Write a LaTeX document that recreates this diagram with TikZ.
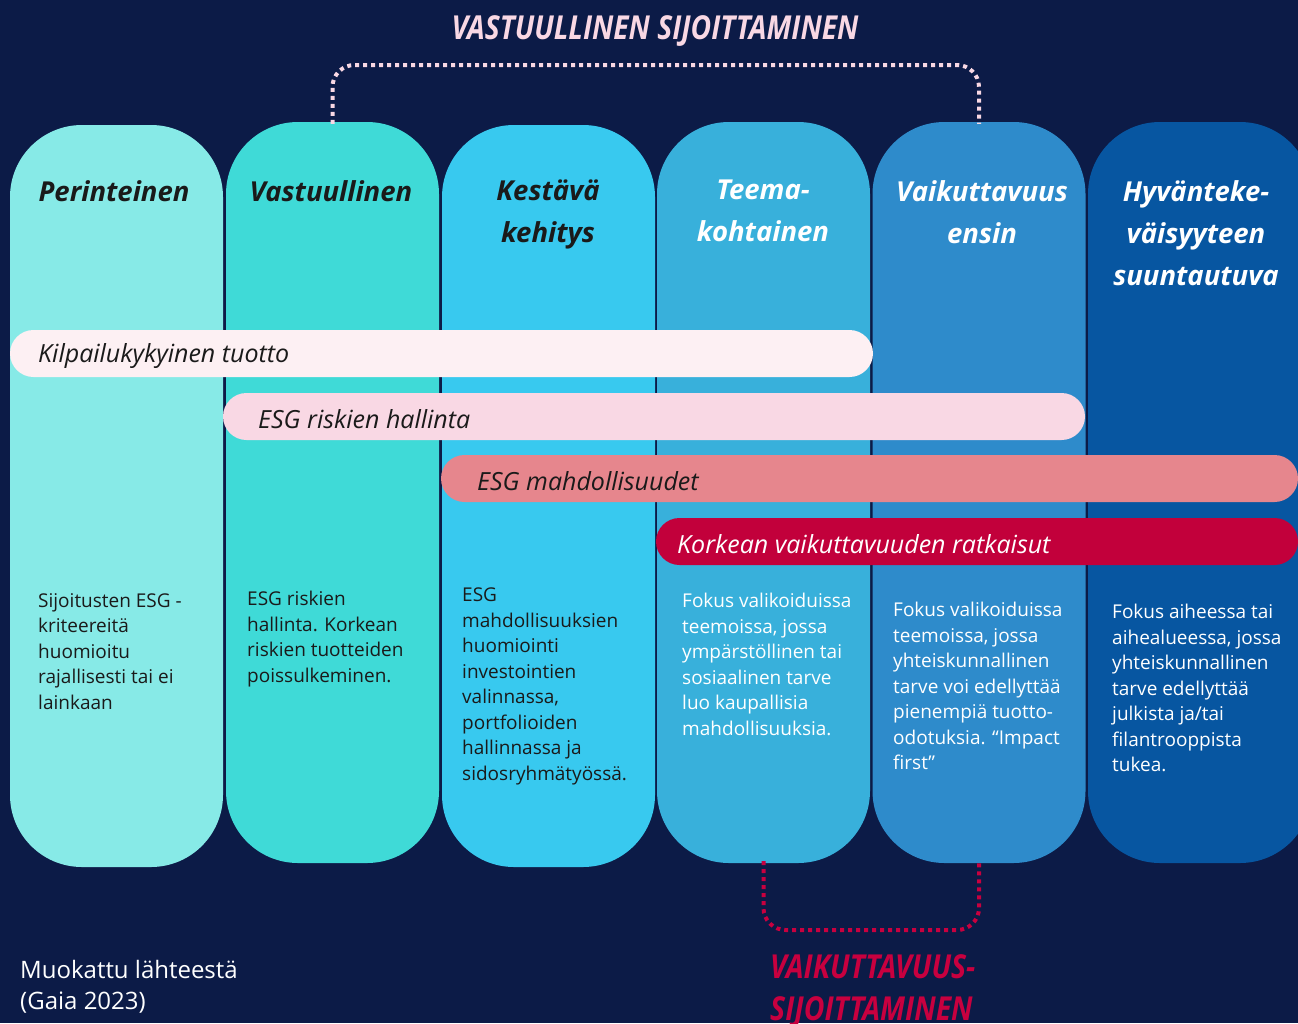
\documentclass[tikz,border=0pt]{standalone}
\usepackage{fontspec}
\setmainfont{Open Sans}
\usepackage{graphicx}
\definecolor{bgnavy}{HTML}{0C1B47}
\definecolor{colA}{HTML}{87EAE7}
\definecolor{colB}{HTML}{3FDAD7}
\definecolor{colC}{HTML}{38C9EF}
\definecolor{colD}{HTML}{38B0DB}
\definecolor{colE}{HTML}{2E8BCB}
\definecolor{colF}{HTML}{0756A1}
\definecolor{barA}{HTML}{FDF0F3}
\definecolor{barB}{HTML}{F9D8E4}
\definecolor{barC}{HTML}{E6868D}
\definecolor{barD}{HTML}{C2003B}
\definecolor{darktext}{HTML}{1A1A1A}
\definecolor{pinktitle}{HTML}{F9D8E4}
\definecolor{crimson}{HTML}{C8003F}
\begin{document}
\begin{tikzpicture}[x=1pt,y=-1pt,
  pillar/.style={draw=none,rectangle,rounded corners=72pt,minimum width=213pt,inner sep=0pt},
  headtxt/.style={anchor=north,align=center,inner sep=0pt,
    font=\fontsize{27.5}{42}\selectfont\bfseries\itshape},
  bodytxt/.style={anchor=north west,align=left,inner sep=0pt,
    font=\fontsize{19}{25.5}\selectfont},
  barbox/.style={draw=none,rectangle,rounded corners=23.5pt,minimum height=47pt,inner sep=0pt},
  bartxt/.style={anchor=west,inner sep=0pt,font=\fontsize{25}{28}\selectfont\itshape},
  dots/.style={line width=4pt,dash pattern=on 4pt off 4pt,rounded corners=22pt},
  banner/.style={font=\fontsize{33}{42}\selectfont\bfseries\itshape,inner sep=0pt}
]
\useasboundingbox (0,0) rectangle (1298,1023);
\clip (0,0) rectangle (1298,1023);
\fill[bgnavy] (0,0) rectangle (1298,1023);

% pillars
\node[pillar,fill=colA,minimum height=742pt] (c1) at (116.5,496) {};
\node[pillar,fill=colB,minimum height=741pt] (c2) at (332.5,492.5) {};
\node[pillar,fill=colC,minimum height=742pt] (c3) at (548.5,496) {};
\node[pillar,fill=colD,minimum height=741pt] (c4) at (763.5,492.5) {};
\node[pillar,fill=colE,minimum height=741pt] (c5) at (979,492.5) {};
\node[pillar,fill=colF,minimum height=741pt,minimum width=224pt] (c6) at (1200,492.5) {};

% pillar headings
\node[headtxt,text=darktext] (h1) at (114,180) {Perinteinen};
\node[headtxt,text=darktext] (h2) at (331,180) {Vastuullinen};
\node[headtxt,text=darktext] (h3) at (548,180) {Kestävä\\kehitys};
\node[headtxt,text=white] (h4) at (763,180) {Teema-\\kohtainen};
\node[headtxt,text=white] (h5) at (982,180) {Vaikuttavuus\\ensin};
\node[headtxt,text=white] (h6) at (1196,180) {Hyvänteke-\\väisyyteen\\suuntautuva};

% horizontal bands
\node[barbox,fill=barA,minimum width=863pt] (b1) at (441.5,353.5) {};
\node[barbox,fill=barB,minimum width=862pt] (b2) at (654,416.5) {};
\node[barbox,fill=barC,minimum width=857pt] (b3) at (869.5,478.5) {};
\node[barbox,fill=barD,minimum width=642pt] (b4) at (977,541.5) {};
\node[bartxt,text=darktext] (t1) at (38,356) {Kilpailukykyinen tuotto};
\node[bartxt,text=darktext] (t2) at (258,419) {ESG riskien hallinta};
\node[bartxt,text=darktext] (t3) at (477,481) {ESG mahdollisuudet};
\node[bartxt,text=white] (t4) at (677,544) {Korkean vaikuttavuuden ratkaisut};

% descriptions
\node[bodytxt,text=darktext] (d1) at (38,593) {Sijoitusten ESG -\\kriteereitä\\huomioitu\\rajallisesti tai ei\\lainkaan};
\node[bodytxt,text=darktext] (d2) at (247,591) {ESG riskien\\hallinta. Korkean\\riskien tuotteiden\\poissulkeminen.};
\node[bodytxt,text=darktext] (d3) at (462,588) {ESG\\mahdollisuuksien\\huomiointi\\investointien\\valinnassa,\\portfolioiden\\hallinnassa ja\\sidosryhmätyössä.};
\node[bodytxt,text=white] (d4) at (682,593) {Fokus valikoiduissa\\teemoissa, jossa\\ympärstöllinen tai\\sosiaalinen tarve\\luo kaupallisia\\mahdollisuuksia.};
\node[bodytxt,text=white] (d5) at (893,602) {Fokus valikoiduissa\\teemoissa, jossa\\yhteiskunnallinen\\tarve voi edellyttää\\pienempiä tuotto-\\odotuksia. “Impact\\first”};
\node[bodytxt,text=white] (d6) at (1112,604) {Fokus aiheessa tai\\aihealueessa, jossa\\yhteiskunnallinen\\tarve edellyttää\\julkista ja/tai\\filantrooppista\\tukea.};

% brackets grouping the pillars
\coordinate (topL) at (332.5,65);
\coordinate (topR) at (979,65);
\draw[dots,draw=pinktitle] ([yshift=-2pt]c2.north) -- (topL) -- (topR) -- ([yshift=-2pt]c5.north);
\coordinate (botL) at (763.5,930);
\coordinate (botR) at (979,930);
\draw[dots,draw=crimson] ([yshift=2pt]c4.south) -- (botL) -- (botR) -- ([yshift=2pt]c5.south);

\node[banner,text=pinktitle] (vs) at (655,31) {\scalebox{0.855}[1]{VASTUULLINEN SIJOITTAMINEN}};
\node[banner,text=crimson,anchor=north west,align=left] (vk) at (770,954)
  {\scalebox{0.86}[1]{VAIKUTTAVUUS-}\\\scalebox{0.86}[1]{SIJOITTAMINEN}};

% source note
\node[anchor=north west,align=left,inner sep=0pt,text=white,
  font=\fontsize{24}{31}\selectfont] (src) at (20,960) {Muokattu lähteestä\\(Gaia 2023)};
\end{tikzpicture}
\end{document}
